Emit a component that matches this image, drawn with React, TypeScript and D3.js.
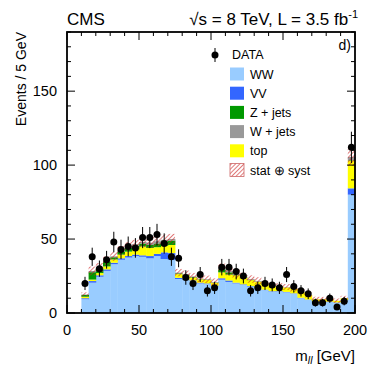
import React from "react";
import * as d3 from "d3";

// lower edges of the 5 GeV bins
const binLow = [10, 15, 20, 25, 30, 35, 40, 45, 50, 55, 60, 65, 70, 75, 80, 85, 90, 95, 100, 105,
  110, 115, 120, 125, 130, 135, 140, 145, 150, 155, 160, 165, 170, 175, 180, 185, 190, 195];

const dataCounts = [20, 38, 30, 36, 48, 43, 45, 44, 51, 51, 53, 47, 38, 37, 24, 20, 26, 15, 17, 31,
  31, 28, 25, 15, 17, 20, 19, 17, 26, 18, 15, 13, 7, 7, 10, 4, 8, 112];

const ww = [9.3, 20.5, 24.5, 28.5, 33, 36, 37.5, 38.5, 38, 37, 38.5, 36.5, 36, 23, 22.5, 21.5, 20, 19.5, 18, 22.5,
  21, 20, 19, 17.8, 16.7, 15.5, 14.5, 14.5, 14, 13, 10, 8.8, 7.5, 7.5, 7.5, 7, 8.5, 80];
const vv = [0.7, 1.1, 1, 1, 1, 1, 1, 1, 1, 1.5, 1.5, 4.5, 4.5, 0.8, 0.7, 0.5, 0.5, 0.5, 0.4, 1,
  1, 0.5, 0.4, 0.4, 0.4, 0.3, 0.3, 0.3, 0.3, 0.3, 0.3, 0.3, 0.2, 0.2, 0.2, 0.2, 0.2, 4.3];
const topq = [1, 1, 1.5, 2, 2.2, 2.5, 3, 3.5, 6, 5.5, 4.5, 4.5, 5.5, 2.5, 2.2, 2, 2.2, 2.3, 2, 4,
  4, 5, 4.5, 4, 4, 3.5, 3.3, 3, 3, 3, 3.8, 3, 1.6, 1.6, 1.5, 1, 1.3, 18.8];
const zjets = [1.2, 5, 3, 3, 1.5, 2, 2.5, 2.5, 2, 2, 2.5, 3, 3, 0.5, 0.3, 0.3, 0.2, 0.2, 0.2, 2,
  1.5, 0.5, 0.3, 0.3, 0.2, 0.2, 0.2, 0, 0, 0, 0, 0, 0, 0, 0, 0, 0, 0.3];
const wjets = [0.3, 0.8, 0.8, 0.7, 0.6, 0.8, 1, 1, 1, 1.5, 1.5, 1, 1, 0.5, 0.5, 0.3, 0.3, 0.3, 0.3, 1,
  1, 0.5, 0.5, 0.5, 0.4, 0.3, 0.3, 0.3, 0.3, 0.2, 0.3, 0.2, 0.2, 0.1, 0.1, 0.1, 0.1, 2.1];
const systErr = [1.5, 3, 3, 3, 3, 3, 3, 3, 3.5, 3.5, 3.5, 3.5, 3.5, 2.5, 2.5, 2.5, 2.5, 2.5, 2.5, 3,
  3, 3, 2.5, 2.5, 2.5, 2, 2, 2, 2, 2, 2, 1.8, 1.5, 1.5, 1.5, 1.5, 1.5, 6];

const xTickLabels = [0, 50, 100, 150, 200];
const yTickLabels = [0, 50, 100, 150];

const stackKeys = ["ww", "vv", "top", "zjets", "wjets"];
const colors: Record<string, string> = {
  ww: "#99ccff",
  vv: "#3366ff",
  zjets: "#009900",
  wjets: "#999999",
  top: "#ffff00",
};
const legendItems = [
  { key: "ww", label: "WW" },
  { key: "vv", label: "VV" },
  { key: "zjets", label: "Z + jets" },
  { key: "wjets", label: "W + jets" },
  { key: "top", label: "top" },
];

const W = 374, H = 392;
const margin = { left: 67, right: 19, top: 32, bottom: 79 };
const font = "'Liberation Sans', Arial, Helvetica, sans-serif";

export default function App() {
  const x = d3.scaleLinear().domain([0, 200]).range([margin.left, W - margin.right]);
  const y = d3.scaleLinear().domain([0, 190]).range([H - margin.bottom, margin.top]);
  const bw = 5;

  const rows = binLow.map((b, i) => ({
    b, ww: ww[i], vv: vv[i], top: topq[i], zjets: zjets[i], wjets: wjets[i],
  }));
  const series = d3.stack<any>().keys(stackKeys)(rows);
  const totals = rows.map((r) => stackKeys.reduce((s, k) => s + (r as any)[k], 0));

  const x0 = x(0), x1 = x(200), y0 = y(0), y1 = y(190);
  const xMinor = d3.range(0, 201, 10);
  const yMinor = d3.range(0, 191, 10);

  return (
    <svg width={W} height={H} style={{ position: "absolute", left: 0, top: 0, background: "#fff" }}
      fontFamily={font}>
      <defs>
        <pattern id="hatch" width="3" height="3" patternUnits="userSpaceOnUse" patternTransform="rotate(45)">
          <line x1="0" y1="0" x2="0" y2="3" stroke="#cc2222" strokeWidth="1.2" />
        </pattern>
      </defs>

      {/* stacked backgrounds */}
      {series.map((s) => (
        <g key={s.key} fill={colors[s.key]}>
          {s.map((d, i) => (
            d[1] - d[0] > 0 ? (
              <rect key={i} x={x(binLow[i])} width={x(binLow[i] + bw) - x(binLow[i]) + 0.4}
                y={y(d[1])} height={y(d[0]) - y(d[1])} />
            ) : null
          ))}
        </g>
      ))}

      {/* stat + syst band */}
      <g fill="url(#hatch)">
        {totals.map((t, i) => (
          <rect key={i} x={x(binLow[i])} width={x(binLow[i] + bw) - x(binLow[i])}
            y={y(t + systErr[i])} height={y(t - systErr[i]) - y(t + systErr[i])} />
        ))}
      </g>

      {/* data */}
      <g>
        {dataCounts.map((n, i) => {
          const cx = x(binLow[i] + bw / 2);
          const e = Math.sqrt(n);
          return (
            <g key={i}>
              <line x1={cx} x2={cx} y1={y(n + e)} y2={y(Math.max(0, n - e))} stroke="#000" strokeWidth={1} />
              <circle cx={cx} cy={y(n)} r={3.5} fill="#000" />
            </g>
          );
        })}
      </g>

      {/* frame */}
      <rect x={x0} y={y1} width={x1 - x0} height={y0 - y1} fill="none" stroke="#000" strokeWidth={1.8} />

      {/* ticks on all four sides */}
      <g stroke="#000" strokeWidth={1}>
        {xMinor.map((v) => {
          const len = v % 50 === 0 ? 8 : 4;
          return (
            <g key={v}>
              <line x1={x(v)} x2={x(v)} y1={y0} y2={y0 - len} />
              <line x1={x(v)} x2={x(v)} y1={y1} y2={y1 + len} />
            </g>
          );
        })}
        {yMinor.map((v) => {
          const len = v % 50 === 0 ? 8 : 4;
          return (
            <g key={v}>
              <line x1={x0} x2={x0 + len} y1={y(v)} y2={y(v)} />
              <line x1={x1} x2={x1 - len} y1={y(v)} y2={y(v)} />
            </g>
          );
        })}
      </g>

      {/* tick labels */}
      <g fontSize={14.5} fill="#000">
        {xTickLabels.map((v) => (
          <text key={v} x={x(v)} y={335} textAnchor="middle">{v}</text>
        ))}
        {yTickLabels.map((v) => (
          <text key={v} x={57} y={y(v)} dy="0.36em" textAnchor="end">{v}</text>
        ))}
      </g>

      {/* axis titles */}
      <text x={355} y={361} fontSize={15} textAnchor="end">
        m<tspan fontSize={10.5} fontStyle="italic" dy={3}>ll</tspan><tspan dy={-3}> [GeV]</tspan>
      </text>
      <text transform={`translate(26,${margin.top}) rotate(-90)`} fontSize={14} textAnchor="end">
        Events / 5 GeV
      </text>

      {/* header */}
      <text x={67} y={25} fontSize={17}>CMS</text>
      <text x={358} y={25} fontSize={17} textAnchor="end">
        √s = 8 TeV, L = 3.5 fb<tspan fontSize={11} dy={-7}>-1</tspan>
      </text>
      <text x={351} y={50} fontSize={14} textAnchor="end">d)</text>

      {/* legend */}
      <g fontSize={12.5}>
        <line x1={215} x2={215} y1={48} y2={62} stroke="#000" strokeWidth={1} />
        <circle cx={215} cy={55} r={3.5} fill="#000" />
        <text x={232} y={59}>DATA</text>
        {legendItems.map((it, i) => {
          const cy = 74 + i * 19.2;
          return (
            <g key={it.key}>
              <rect x={230} y={cy - 6.5} width={14} height={13} fill={colors[it.key]} />
              <text x={250} y={cy + 4.5}>{it.label}</text>
            </g>
          );
        })}
        <rect x={230} y={74 + 5 * 19.2 - 6.5} width={14} height={13} fill="url(#hatch)"
          stroke="#cc6666" strokeWidth={0.8} />
        <text x={250} y={74 + 5 * 19.2 + 4.5}>stat ⊕ syst</text>
      </g>
    </svg>
  );
}
